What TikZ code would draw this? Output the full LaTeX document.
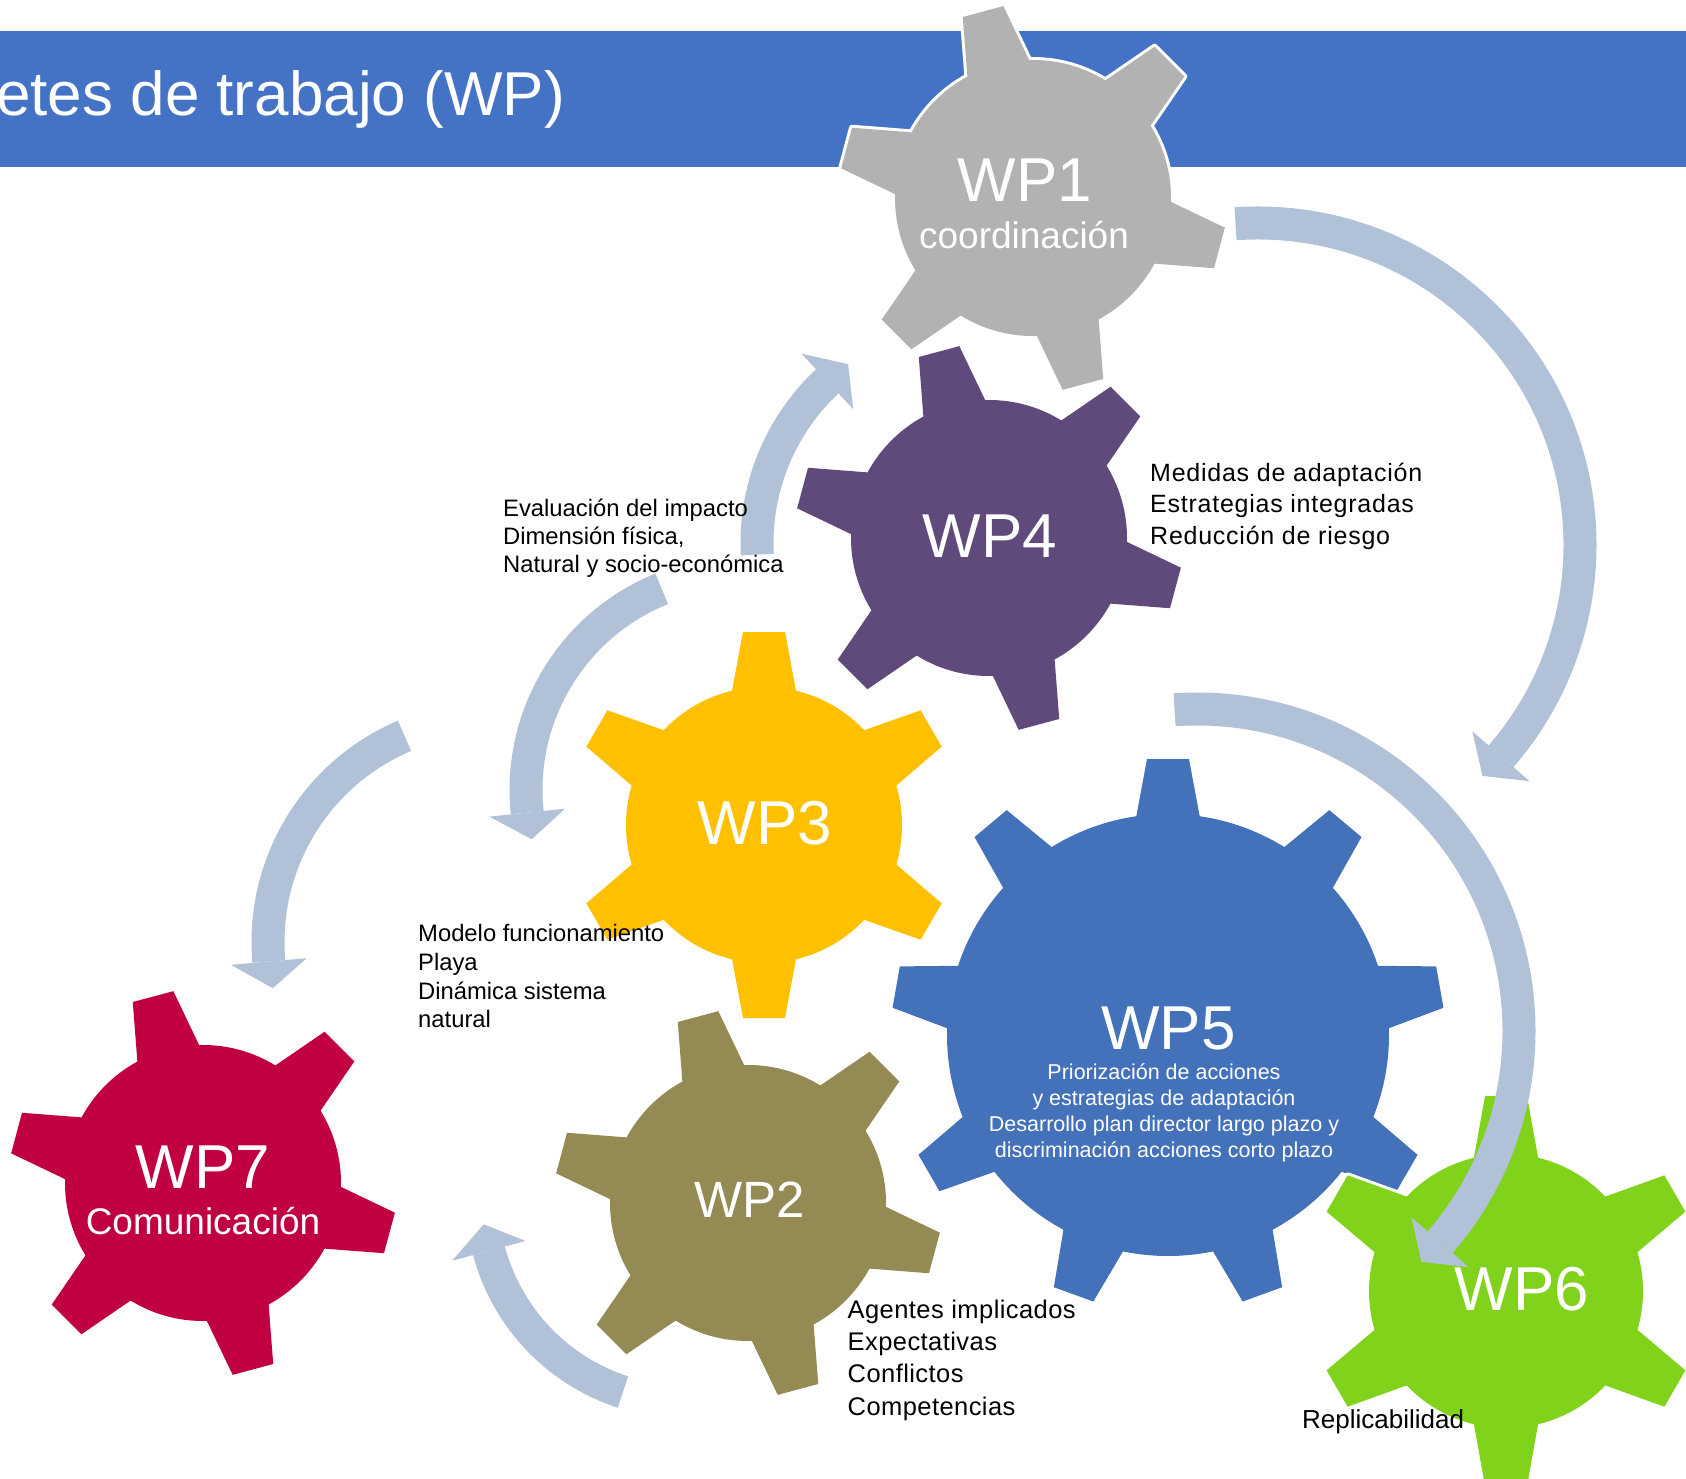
\documentclass[tikz,border=0pt]{standalone}
\usepackage{fontspec}
\setmainfont{Liberation Sans}
\usetikzlibrary{calc}

\definecolor{bannerblue}{RGB}{68,114,196}
\definecolor{gearGray}{RGB}{178,178,178}
\definecolor{gearPurple}{RGB}{96,74,123}
\definecolor{gearYellow}{RGB}{255,192,0}
\definecolor{gearBlue}{RGB}{68,114,186}
\definecolor{gearOlive}{RGB}{148,138,84}
\definecolor{gearRed}{RGB}{192,0,64}
\definecolor{gearGreen}{RGB}{128,211,26}
\definecolor{ringblue}{RGB}{177,193,216}

\newcommand{\gearwheel}[6]{%
  \begin{scope}[shift={(#1)}]
    \path[#6] (0,0) circle (#4);
    \foreach \k in {1,...,#2}
      \path[#6, rotate={#3+(\k-1)*360/#2}] (#4-20,-35) -- (#5,-21) -- (#5,21) -- (#4-20,35) -- cycle;
  \end{scope}}

\newcommand{\ringarrow}[5]{%
  \draw[ringband] ($(#1)+(#3:#2)$) arc[start angle=#3, end angle=#4, radius=#2];
  \fill[ringhead] ($(#1)+(#4:#2-38)$) -- ($(#1)+(#4:#2+38)$) -- ($(#1)+({#4 #5 27/#2*57.3}:#2)$) -- cycle;}

\tikzset{
  rim/.style={draw=white, fill=white, line width=6pt, line join=round},
  ringband/.style={draw=ringblue, line width=33pt},
  ringhead/.style={fill=ringblue},
  gearlabel/.style={text=white, inner sep=0pt, anchor=base, font=\fontsize{62}{62}\selectfont},
  gearsub/.style={text=white, inner sep=0pt, anchor=base, font=\fontsize{37}{37}\selectfont},
  notetext/.style={inner sep=0pt, anchor=base west, align=left},
  bannertitle/.style={text=white, inner sep=0pt, anchor=base west, font=\fontsize{62}{62}\selectfont}
}

\begin{document}
\begin{tikzpicture}[x=1pt, y=1pt]
\useasboundingbox (0,0) rectangle (1686,-1479);
\clip (0,0) rectangle (1686,-1479);

\coordinate (g1) at (1033,-198);
\coordinate (g2) at (748,-1203);
\coordinate (g3) at (764,-825);
\coordinate (g4) at (989,-538);
\coordinate (g5) at (1168,-1035);
\coordinate (g6) at (1506,-1291);
\coordinate (g7) at (203,-1183);

\coordinate (ringA) at (1258,-545);
\coordinate (ringB) at (1197,-1031);
\coordinate (ringC) at (978,-543);
\coordinate (ringD) at (743,-790);
\coordinate (ringE) at (492,-942);
\coordinate (ringF) at (686,-1198);

\fill[bannerblue] (0,-31) rectangle (1686,-167);
\node[bannertitle] (title) at (-4,-116) {etes de trabajo (WP)};

\gearwheel{g1}{6}{45}{138}{193}{rim}
\gearwheel{g1}{6}{45}{138}{193}{fill=gearGray}
\gearwheel{g4}{6}{45}{138}{193}{fill=gearPurple}
\gearwheel{g3}{6}{30}{138}{193}{fill=gearYellow}
\gearwheel{g2}{6}{45}{138}{193}{fill=gearOlive}
\gearwheel{g7}{6}{45}{138}{193}{fill=gearRed}
\gearwheel{g5}{9}{90}{221}{276}{fill=gearBlue}

\ringarrow{ringA}{322}{94}{-41}{-}
\ringarrow{ringC}{221}{183}{133}{-}
\ringarrow{ringD}{217}{112}{186}{+}
\ringarrow{ringE}{224}{113}{185}{+}
\ringarrow{ringF}{204}{252}{195}{-}

\gearwheel{g6}{6}{30}{137}{195}{rim}
\gearwheel{g6}{6}{30}{137}{195}{fill=gearGreen}

\ringarrow{ringB}{322}{94}{-41}{-}

\node[gearlabel] (wp1) at (1025,-201.7) {WP1};
\node[gearsub] (wp1sub) at (1024,-248.3) {coordinación};
\node[gearlabel] (wp4) at (990,-557) {WP4};
\node[gearlabel] (wp3) at (765,-844) {WP3};
\node[gearlabel, font=\fontsize{51}{51}\selectfont] (wp2) at (750,-1217.5) {WP2};
\node[gearlabel] (wp7) at (203,-1188) {WP7};
\node[gearsub] (wp7sub) at (203,-1234) {Comunicación};
\node[gearlabel] (wp5) at (1168.5,-1049) {WP5};
\node[gearsub, align=center, font=\fontsize{21.5}{25.8}\selectfont] (wp5sub) at (1164,-1157)
  {Priorización de acciones\\y estrategias de adaptación\\Desarrollo plan director largo plazo y\\discriminación acciones corto plazo};
\node[gearlabel] (wp6) at (1522,-1310.5) {WP6};

\node[notetext, font=\fontsize{25}{31.5}\selectfont\addfontfeature{LetterSpace=3}] (notewp4) at (1150,-544)
  {Medidas de adaptación\\Estrategias integradas\\Reducción de riesgo};
\node[notetext, font=\fontsize{23.8}{28}\selectfont] (notewp3a) at (503,-572)
  {Evaluación del impacto\\Dimensión física,\\Natural y socio-económica};
\node[notetext, font=\fontsize{23.8}{28.7}\selectfont] (notewp3b) at (418,-1027.7)
  {Modelo funcionamiento\\Playa\\Dinámica sistema\\natural};
\node[notetext, font=\fontsize{25.5}{32.3}\selectfont\addfontfeature{LetterSpace=1.7}] (notewp2) at (847.5,-1415.2)
  {Agentes implicados\\Expectativas\\Conflictos\\Competencias};
\node[notetext, font=\fontsize{26}{26}\selectfont] (notewp6) at (1302,-1428) {Replicabilidad};
\end{tikzpicture}
\end{document}
